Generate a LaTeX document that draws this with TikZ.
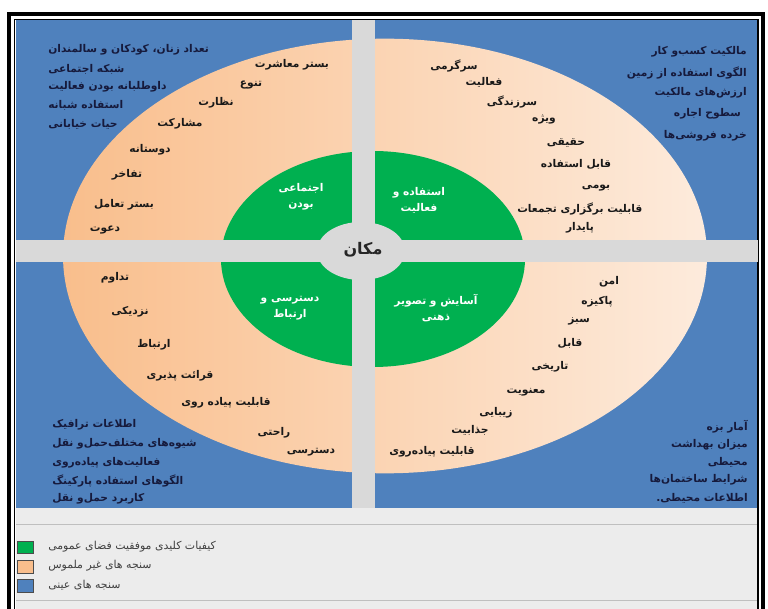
\documentclass[tikz,border=0pt]{standalone}
\usepackage{fontspec}
\newfontfamily\fa[Script=Arabic]{DejaVu Sans}
\TeXXeTstate=1
\newcommand\rl[1]{\beginR#1\endR}
\newcommand\zw{^^^^200c}
\definecolor{frameblue}{RGB}{79,129,189}
\definecolor{peachdark}{RGB}{249,190,140}
\definecolor{peachlight}{RGB}{253,235,220}
\definecolor{keygreen}{RGB}{0,176,80}
\definecolor{bargrey}{RGB}{217,217,217}
\definecolor{legendgrey}{RGB}{236,236,236}
\definecolor{inkblue}{RGB}{22,26,60}

\begin{document}
\begin{tikzpicture}[x=0.75pt,y=-0.75pt,
    item/.style={font=\fa\bfseries\fontsize{8}{9}\selectfont, inner sep=0pt, text=black!90},
    blk/.style={item, text=inkblue},
    quality/.style={font=\fa\bfseries\fontsize{8}{12}\selectfont, text=white, align=center, inner sep=0pt},
    legendtext/.style={font=\fa\fontsize{8.2}{9}\selectfont, text=black!75, anchor=west, inner sep=0pt},
    swatch/.style={draw=black!70, line width=0.6pt}]
    \useasboundingbox (0,0) rectangle (768,609);
    \fill[white] (0,0) rectangle (768,609);
    \fill[legendgrey] (16,20) rectangle (758,609);
    \fill[frameblue] (16,20) rectangle (758,508);
    \draw[black!25, line width=0.5pt] (16,524) -- (758,524) (16,600) -- (758,600);
    \draw[line width=3pt] (8.5,615) -- (8.5,14) -- (763,14) -- (763,615);
    \draw[line width=0.8pt] (14.5,615) -- (14.5,19.5) -- (758,19.5) -- (758,615);

    % intangible ring
    \shade[left color=peachdark, right color=peachlight] (385,256) ellipse [x radius=241.5pt, y radius=163pt];

    \node[item] (nw1) at (292,65) {\rl{بستر معاشرت}};
    \node[item] (nw2) at (251,85) {\rl{تنوع}};
    \node[item] (nw3) at (216,103) {\rl{نظارت}};
    \node[item] (nw4) at (180,124) {\rl{مشارکت}};
    \node[item] (nw5) at (150,150) {\rl{دوستانه}};
    \node[item] (nw6) at (127,175) {\rl{تفاخر}};
    \node[item] (nw7) at (124,205) {\rl{بستر تعامل}};
    \node[item] (nw8) at (105,230) {\rl{دعوت}};

    \node[item] (ne1) at (454,66) {\rl{سرگرمی}};
    \node[item] (ne2) at (484,82) {\rl{فعالیت}};
    \node[item] (ne3) at (512,102) {\rl{سرزندگی}};
    \node[item] (ne4) at (544,120) {\rl{ویژه}};
    \node[item] (ne5) at (566,143) {\rl{حقیقی}};
    \node[item] (ne6) at (576,164) {\rl{قابل استفاده}};
    \node[item] (ne7) at (596,188) {\rl{بومی}};
    \node[item, anchor=west] (ne8) at (517,209) {\rl{قابلیت برگزاری تجمعات}};
    \node[item] (ne9) at (580,228) {\rl{پایدار}};

    \node[item] (sw1) at (115,278) {\rl{تداوم}};
    \node[item] (sw2) at (130,312) {\rl{نزدیکی}};
    \node[item] (sw3) at (154,345) {\rl{ارتباط}};
    \node[item] (sw4) at (180,376) {\rl{قرائت پذیری}};
    \node[item] (sw5) at (226,403) {\rl{قابلیت پیاده روی}};
    \node[item] (sw6) at (274,433) {\rl{راحتی}};
    \node[item] (sw7) at (311,452) {\rl{دسترسی}};

    \node[item] (se1) at (609,282) {\rl{امن}};
    \node[item] (se2) at (597,302) {\rl{پاکیزه}};
    \node[item] (se3) at (579,321) {\rl{سبز}};
    \node[item] (se4) at (570,343) {\rl{قابل}};
    \node[item] (se5) at (550,367) {\rl{تاریخی}};
    \node[item] (se6) at (526,392) {\rl{معنویت}};
    \node[item] (se7) at (496,413) {\rl{زیبایی}};
    \node[item] (se8) at (470,430) {\rl{جذابیت}};
    \node[item] (se9) at (432,452) {\rl{قابلیت پیاده\zw روی}};

    % key qualities
    \fill[keygreen] (373,259) ellipse [x radius=114pt, y radius=81pt];
    \fill[bargrey] (352,20) rectangle (375,508);
    \fill[bargrey] (16,240) rectangle (758,262);
    \fill[bargrey] (361,251) ellipse [x radius=33pt, y radius=21.75pt];

    \node[quality] (social) at (301,197) {\rl{اجتماعی}\\\rl{بودن}};
    \node[quality] (uses) at (419,200) {\rl{استفاده و}\\\rl{فعالیت}};
    \node[quality] (access) at (290,308) {\rl{دسترسی و}\\\rl{ارتباط}};
    \node[quality] (comfort) at (436,308) {\rl{آسایش و تصویر}\\\rl{ذهنی}};
    \node[font=\fa\bfseries\fontsize{12}{13}\selectfont, text=black!85] (place) at (363,250) {\rl{مکان}};

    % tangible measures
    \node[blk, anchor=west] (tl1) at (48,50) {\rl{تعداد زنان، کودکان و سالمندان}};
    \node[blk, anchor=west] (tl2) at (48,69) {\rl{شبکه اجتماعی}};
    \node[blk, anchor=west] (tl3) at (48,87) {\rl{داوطلبانه بودن فعالیت}};
    \node[blk, anchor=west] (tl4) at (48,105) {\rl{استفاده شبانه}};
    \node[blk, anchor=west] (tl5) at (48,124) {\rl{حیات خیابانی}};

    \node[blk, anchor=east] (tr1) at (747,52) {\rl{مالکیت کسب\zw و کار}};
    \node[blk, anchor=east] (tr2) at (747,73) {\rl{الگوی استفاده از زمین}};
    \node[blk, anchor=east] (tr3) at (747,93) {\rl{ارزش\zw های مالکیت}};
    \node[blk, anchor=east] (tr4) at (741,114) {\rl{سطوح اجاره}};
    \node[blk, anchor=east] (tr5) at (747,136) {\rl{خرده فروشی\zw ها}};

    \node[blk, anchor=west] (bl1) at (52,425) {\rl{اطلاعات ترافیک}};
    \node[blk, anchor=west] (bl2) at (52,444) {\rl{شیوه\zw های مختلف\zw حمل\zw و نقل}};
    \node[blk, anchor=west] (bl3) at (52,463) {\rl{فعالیت\zw های پیاده\zw روی}};
    \node[blk, anchor=west] (bl4) at (52,481) {\rl{الگوهای استفاده پارکینگ}};
    \node[blk, anchor=west] (bl5) at (52,499) {\rl{کاربرد حمل\zw و نقل}};

    \node[blk, anchor=east] (br1) at (748,427) {\rl{آمار بزه}};
    \node[blk, anchor=east] (br2) at (748,445) {\rl{میزان بهداشت}};
    \node[blk, anchor=east] (br3) at (748,462) {\rl{محیطی}};
    \node[blk, anchor=east] (br4) at (748,480) {\rl{شرایط ساختمان\zw ها}};
    \node[blk, anchor=east] (br5) at (748,498) {\rl{اطلاعات محیطی.}};

    % legend
    \draw[swatch, fill=keygreen] (17,541) rectangle (33,553);
    \draw[swatch, fill=peachdark] (17,560) rectangle (33,573);
    \draw[swatch, fill=frameblue] (17,579) rectangle (33,592);
    \node[legendtext] (lg1) at (48,547) {\rl{کیفیات کلیدی موفقیت فضای عمومی}};
    \node[legendtext] (lg2) at (48,566) {\rl{سنجه های غیر ملموس}};
    \node[legendtext] (lg3) at (48,585) {\rl{سنجه های عینی}};
\end{tikzpicture}
\end{document}
